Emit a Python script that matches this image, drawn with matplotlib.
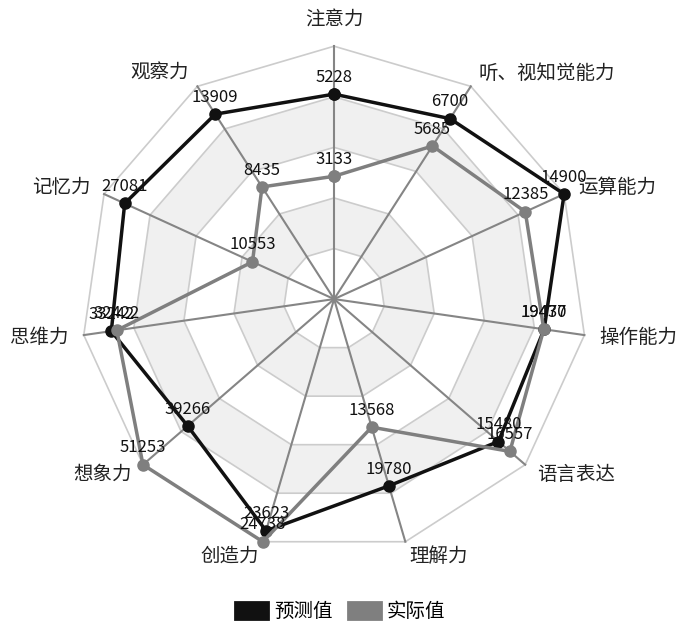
import numpy as np
import matplotlib
matplotlib.use('Agg')
import matplotlib.pyplot as plt
from matplotlib.patches import Patch

plt.rcParams['font.family'] = ['Noto Sans CJK SC', 'DejaVu Sans']

categories = ['注意力', '听、视知觉能力', '运算能力', '操作能力', '语言表达', '理解力',
              '创造力', '想象力', '思维力', '记忆力', '观察力']
predicted = [5228, 6700, 14900, 19470, 15480, 19780, 23623, 39266, 33242, 27081, 13909]
actual = [3133, 5685, 12385, 19437, 16557, 13568, 24738, 51253, 32422, 10553, 8435]
# each spoke has its own scale (value at the outer ring)
axis_max = [6450, 7900, 14900, 23200, 18000, 25700, 24738, 51253, 37350, 29750, 16000]
series_names = ['预测值', '实际值']

n = len(categories)
theta = np.arange(n) * 2 * np.pi / n
theta_c = np.append(theta, theta[0])

fig = plt.figure(figsize=(6.87, 6.33), dpi=100)
ax = fig.add_axes([0.118, 0.128, 0.7366, 0.799], projection='polar')
ax.set_theta_offset(np.pi / 2)
ax.set_theta_direction(-1)
ax.set_ylim(0, 1)
ax.grid(False)
ax.set_xticks([])
ax.set_yticks([])
ax.spines['polar'].set_visible(False)
ax.patch.set_alpha(0)

# alternating bands and polygon grid
rings = [0.2, 0.4, 0.6, 0.8, 1.0]
for r, c in zip([0.8, 0.6, 0.4, 0.2], ['#f0f0f0', 'white', '#f0f0f0', 'white']):
    ax.fill(theta_c, [r] * (n + 1), color=c, lw=0, zorder=1)
for r in rings:
    ax.plot(theta_c, [r] * (n + 1), color='#cccccc', lw=1.2, zorder=2, clip_on=False)
for t in theta:
    ax.plot([t, t], [0, 1], color='#858585', lw=1.5, zorder=3, clip_on=False)

pred_r = np.array(predicted) / np.array(axis_max)
act_r = np.array(actual) / np.array(axis_max)

ax.plot(theta_c, np.append(pred_r, pred_r[0]), color='#111111', lw=2.5, marker='o',
        ms=8, zorder=5, clip_on=False)
ax.plot(theta_c, np.append(act_r, act_r[0]), color='#7f7f7f', lw=2.5, marker='o',
        ms=8, zorder=6, clip_on=False)

for vals, rs in [(predicted, pred_r), (actual, act_r)]:
    for t, v, r in zip(theta, vals, rs):
        ax.annotate(str(v), (t, r), xytext=(0, 6), textcoords='offset points',
                    ha='center', va='bottom', fontsize=12, color='#111111', zorder=8)

for t, lab in zip(theta, categories):
    s = np.sin(t)
    c = np.cos(t)
    if abs(s) < 0.2:
        ha = 'center'
    elif s > 0:
        ha = 'left'
    else:
        ha = 'right'
    va = 'bottom' if c > 0.95 else 'center'
    ax.text(t, 1.06, lab, ha=ha, va=va, fontsize=14, color='#222222')

handles = [Patch(facecolor='#111111', edgecolor='#111111', lw=2, joinstyle='round'),
           Patch(facecolor='#7f7f7f', edgecolor='#7f7f7f', lw=2, joinstyle='round')]
fig.legend(handles, series_names, loc='center', bbox_to_anchor=(0.495, 0.034), ncol=2,
           frameon=False, fontsize=14, handlelength=1.7, handleheight=1.0,
           columnspacing=0.8, handletextpad=0.3)

fig.savefig('out.png', dpi=100)
